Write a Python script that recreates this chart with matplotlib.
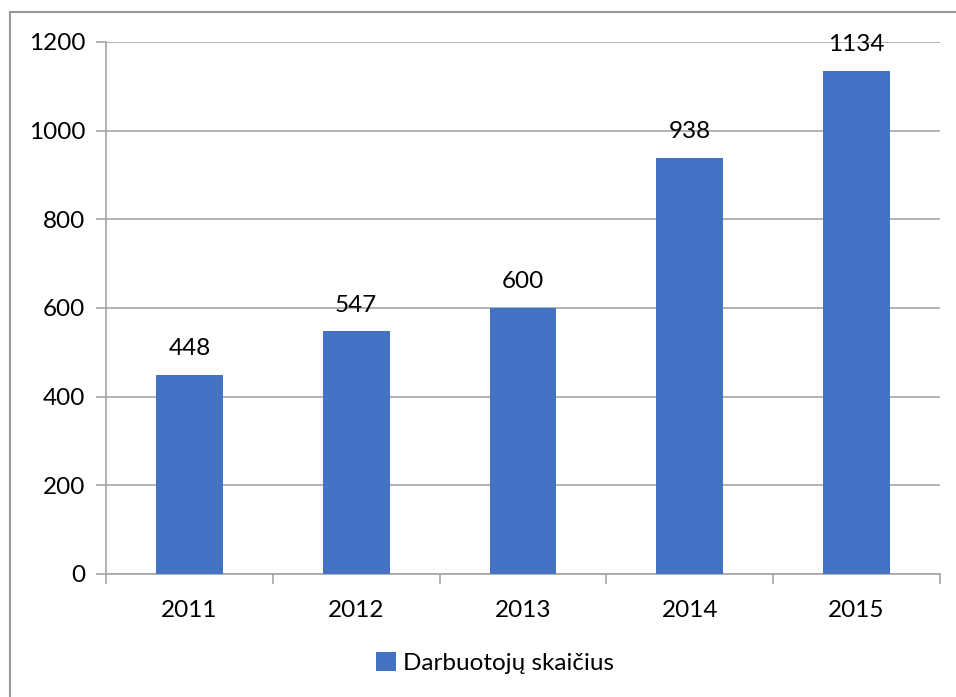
import matplotlib.pyplot as plt
from matplotlib.patches import Rectangle

# Employee count per year
years = ["2011", "2012", "2013", "2014", "2015"]
counts = [448, 547, 600, 938, 1134]
series_name = "Darbuotojų skaičius"

BAR_COLOR = "#4472C4"
GRID_COLOR = "#A6A6A6"
FS = 17.5

plt.rcParams["font.family"] = ["Lato", "DejaVu Sans"]

fig = plt.figure(figsize=(9.56, 6.97), dpi=100)
ax = fig.add_axes([106 / 956, 1 - 574 / 697, (940 - 106) / 956, (574 - 42) / 697])

x = range(len(years))
bars = ax.bar(x, counts, width=0.4, color=BAR_COLOR, label=series_name, zorder=3)

for b, v in zip(bars, counts):
    ax.annotate(str(v), (b.get_x() + b.get_width() / 2, v), xytext=(0, 19),
                textcoords="offset points", ha="center", va="center", fontsize=FS)

ax.set_xlim(-0.5, len(years) - 0.5)
ax.set_ylim(0, 1200)
ax.set_yticks(range(0, 1201, 200))
ax.yaxis.grid(True, color=GRID_COLOR, linewidth=1.2, zorder=0)

# category labels centred, tick marks on category boundaries
ax.set_xticks(list(x))
ax.set_xticklabels(years, fontsize=FS)
ax.set_xticks([i - 0.5 for i in range(len(years) + 1)], minor=True)
ax.tick_params(axis="x", which="major", length=0, pad=19)
ax.tick_params(axis="x", which="minor", length=7, width=1.2, color=GRID_COLOR)
ax.tick_params(axis="y", length=7, width=1.2, color=GRID_COLOR, pad=8, labelsize=FS)

for side in ["top", "right"]:
    ax.spines[side].set_visible(False)
for side in ["left", "bottom"]:
    ax.spines[side].set_color(GRID_COLOR)
    ax.spines[side].set_linewidth(1.2)

fig.legend(handles=[bars], loc="center", bbox_to_anchor=(0.518, 1 - 663 / 697),
           frameon=False, fontsize=FS, handlelength=0.8, handleheight=0.8,
           handletextpad=0.3)

# chart frame
fig.patches.append(Rectangle((10 / 956, -0.1), 1.2, 1.1 - 12 / 697,
                             transform=fig.transFigure, fill=False,
                             edgecolor="#999999", linewidth=1.5))

fig.savefig("out.png", dpi=100)
